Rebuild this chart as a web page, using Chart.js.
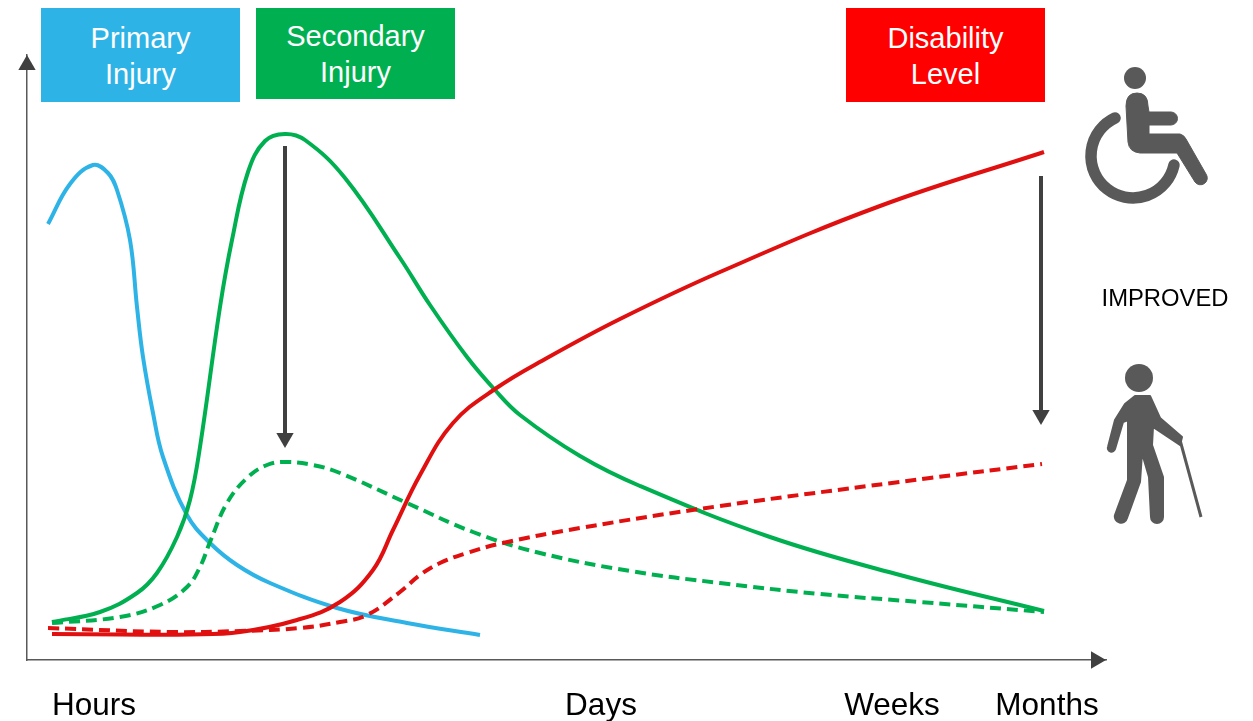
<!DOCTYPE html>
<html>
<head>
<meta charset="utf-8">
<title>Injury and disability over time</title>
<script src="https://cdn.jsdelivr.net/npm/chart.js@4"></script>
<style>
  html, body { margin: 0; padding: 0; background: #fff; }
  body { width: 1253px; height: 721px; position: relative; overflow: hidden; font-family: "Liberation Sans", Arial, sans-serif; }
  #chart { position: absolute; left: 0; top: 0; }
  .box { position: absolute; width: 199px; color: #fff; font-size: 29px; line-height: 36px; text-align: center; box-sizing: border-box; }
  #improved { position: absolute; left: 1085px; width: 160px; top: 284px; text-align: center; font-size: 23.8px; line-height: 28px; color: #000; }
  #icons { position: absolute; left: 0; top: 0; }
</style>
</head>
<body>
<canvas id="chart" width="1253" height="721"></canvas>
<div class="box" style="left:41px;top:8px;height:94px;padding-top:12px;background:#2EB3E6">Primary<br>Injury</div>
<div class="box" style="left:256px;top:8px;height:91px;padding-top:10px;background:#00B050">Secondary<br>Injury</div>
<div class="box" style="left:846px;top:8px;height:94px;padding-top:12px;background:#FF0000">Disability<br>Level</div>
<div id="improved">IMPROVED</div>
<svg id="icons" width="1253" height="721" fill="#595959" stroke-linejoin="round">
  <circle cx="1135" cy="78" r="11"/>
  <path stroke="#595959" stroke-width="1" d="M1126 106Q1126 93 1137 93Q1148 93 1148 106L1149 112L1171 112A6.5 6.5 0 0 1 1171 125L1149 125L1149 134L1180 134Q1184 135 1186 139L1206 174A6.5 6.5 0 0 1 1195 182L1177 153L1140 153Q1129 152 1128 142Z"/>
  <path d="M1115 118A42 42 0 1 0 1174 165" fill="none" stroke="#595959" stroke-width="11.5" stroke-linecap="round"/>
  <circle cx="1139" cy="378" r="14"/>
  <path stroke="#595959" stroke-width="2" d="M1135 396L1150 396L1160 418L1182 437L1180 445L1153 427L1152 445L1163 477L1163 517A6 6 0 0 1 1151 517L1149 477L1142 453L1140 482L1127 518A6 6 0 0 1 1115 515L1128 480L1128 420L1123 422L1115 449A3 3 0 0 1 1108 447L1115 420L1125 404Z"/>
  <path d="M1180 440L1201 517" fill="none" stroke="#595959" stroke-width="3"/>
</svg>
<script>
// x = time position along the axis, y = level above the axis
const tickPositions = [67, 574, 865, 1020];
const tickLabels = ["Hours", "Days", "Weeks", "Months"];

const primaryX = [21, 43, 66, 81, 90, 103, 110, 116, 126, 136, 160, 183, 210, 243, 310, 380, 453];
const primaryY = [436, 476, 495, 487, 470, 420, 353, 303, 247, 203, 145, 117, 95, 77, 52, 37, 25];

const secondaryX = [25, 73, 110, 130, 150, 163, 173, 193, 205, 221, 238, 258, 278, 318, 373, 403, 440, 468, 493, 553, 613, 743, 873, 1017];
const secondaryY = [38, 48, 67, 87, 123, 160, 213, 353, 420, 488, 519, 526, 520, 482, 402, 355, 303, 270, 245, 204, 174, 123, 85, 49];

const treatedSecondaryX = [25, 93, 133, 160, 173, 183, 200, 220, 240, 260, 286, 313, 380, 446, 513, 603, 693, 793, 893, 1017];
const treatedSecondaryY = [37, 43, 55, 73, 93, 118, 157, 182, 195, 198, 195, 187, 157, 128, 107, 89, 77, 66, 58, 48];

const disabilityX = [25, 93, 163, 213, 270, 313, 346, 366, 393, 426, 468, 520, 593, 693, 853, 1017];
const disabilityY = [26, 25.5, 25.5, 28, 40, 58, 90, 130, 185, 237, 271, 302, 341, 388, 454, 508];

const treatedDisabilityX = [21, 143, 213, 273, 313, 340, 373, 393, 413, 440, 476, 553, 693, 903, 1015];
const treatedDisabilityY = [32, 28, 29, 32, 38, 45, 68, 85, 97, 107, 117, 132, 154, 182, 196];

const arrowOneX = [258, 258];
const arrowOneY = [514, 222];
const arrowTwoX = [1014, 1014];
const arrowTwoY = [484, 245];

function toPoints(xs, ys) {
  return xs.map((x, i) => ({ x: x, y: ys[i] }));
}

function curve(label, xs, ys, color, width, dash) {
  return {
    label: label,
    data: toPoints(xs, ys),
    borderColor: color,
    borderWidth: width,
    borderDash: dash || [],
    tension: 0.4,
    pointRadius: 0,
    fill: false
  };
}

function arrow(label, xs, ys) {
  return {
    label: label,
    data: toPoints(xs, ys),
    borderColor: "#404040",
    backgroundColor: "#404040",
    borderWidth: 4,
    pointStyle: "triangle",
    pointRadius: [0, 10],
    pointBorderWidth: 0,
    pointRotation: 180,
    fill: false
  };
}

// arrow heads at the far ends of the two axes
function axisHead(label, x, y, rotation) {
  return {
    label: label,
    data: [{ x: x, y: y }],
    showLine: false,
    clip: false,
    backgroundColor: "#404040",
    pointStyle: "triangle",
    pointRadius: 10,
    pointBorderWidth: 0,
    pointRotation: rotation
  };
}

new Chart(document.getElementById("chart"), {
  type: "line",
  data: {
    datasets: [
      arrow("Reduction of secondary injury", arrowOneX, arrowOneY),
      arrow("Reduction of disability", arrowTwoX, arrowTwoY),
      curve("Disability, treated", treatedDisabilityX, treatedDisabilityY, "#E01010", 4, [11, 6]),
      curve("Disability", disabilityX, disabilityY, "#E01010", 4),
      curve("Secondary, treated", treatedSecondaryX, treatedSecondaryY, "#00B050", 4, [11, 6]),
      curve("Secondary injury", secondaryX, secondaryY, "#00B050", 4),
      curve("Primary injury", primaryX, primaryY, "#2EB3E6", 4),
      axisHead("y axis head", 0, 595, 0),
      axisHead("x axis head", 1069, 0, 90)
    ]
  },
  options: {
    responsive: false,
    animation: false,
    devicePixelRatio: 1,
    layout: { padding: { left: 27, right: 147, top: 55, bottom: 0 } },
    plugins: { legend: { display: false }, tooltip: { enabled: false } },
    scales: {
      x: {
        type: "linear",
        min: 0,
        max: 1079,
        grid: { display: false },
        border: { color: "#595959", width: 1.5 },
        afterBuildTicks: axis => { axis.ticks = tickPositions.map(v => ({ value: v })); },
        afterFit: axis => { axis.height = 61; },
        ticks: {
          autoSkip: false,
          maxRotation: 0,
          padding: 19,
          color: "#000",
          font: { family: "'Liberation Sans'", size: 31.5 },
          callback: v => tickLabels[tickPositions.indexOf(v)]
        }
      },
      y: {
        type: "linear",
        min: 0,
        max: 605,
        grid: { display: false },
        border: { color: "#595959", width: 1.5 },
        afterFit: axis => { axis.width = 0; },
        ticks: { display: false }
      }
    }
  }
});
</script>
</body>
</html>
